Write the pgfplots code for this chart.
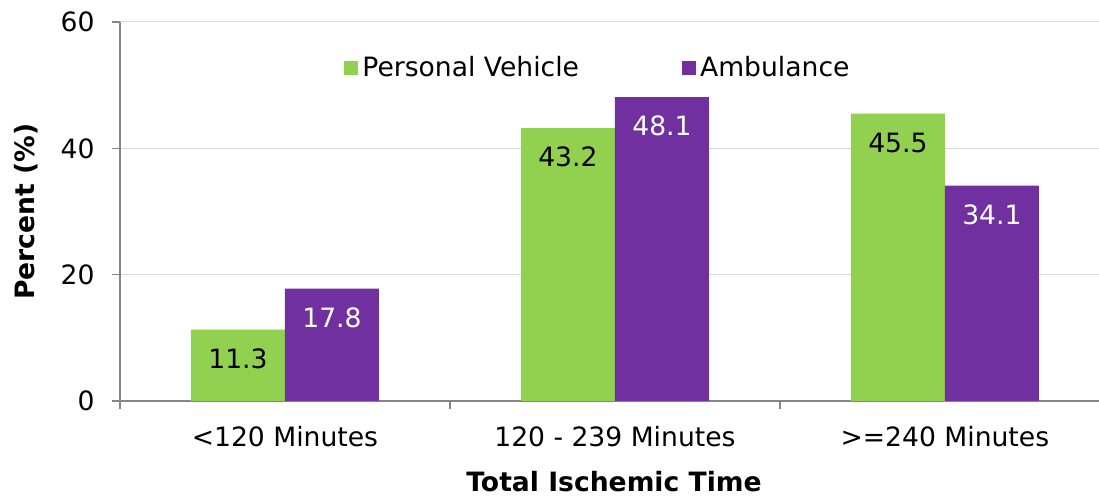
\documentclass[border=0pt]{standalone}
\usepackage{pgfplots}
\pgfplotsset{compat=1.18}
\usepackage{fontspec}
\setmainfont{DejaVu Sans}
\definecolor{pv}{HTML}{92D050}
\definecolor{amb}{HTML}{7030A0}
\definecolor{axgray}{HTML}{868686}
\definecolor{gridc}{HTML}{D9D9D9}
\begin{document}
\fontsize{13.3}{15}\selectfont
\begin{tikzpicture}
\begin{axis}[
  at={(0,0)}, anchor=south west,
  scale only axis, width=489.5pt, height=189.5pt,
  ybar=0pt, bar width=47pt,
  xmin=-0.5, xmax=2.467, ymin=0, ymax=60,
  ytick={0,20,40,60},
  xtick={0,1,2},
  xticklabels={{<120 Minutes},{120 - 239 Minutes},{>=240 Minutes}},
  minor xtick={-0.5,0.5,1.5},
  major x tick style={draw=none},
  axis x line*=bottom, axis y line*=left,
  axis line style={draw=axgray, line width=0.6pt, -},
  tick style={draw=axgray, line width=0.6pt},
  tick align=outside,
  major tick length=4pt, minor tick length=4pt,
  ymajorgrids, grid style={draw=gridc, line width=0.5pt},
  /pgf/number format/assume math mode=true,
  font=\fontsize{13.3}{15}\selectfont,
  ticklabel style={font=\fontsize{13.3}{15}\selectfont},
  yticklabel style={anchor=east, xshift=-4.1pt},
  xticklabel style={anchor=center, yshift=-13.8pt},
  every axis y label/.style={at={(axis description cs:-0.096,0.5)}, anchor=center, rotate=90},
  every axis x label/.style={at={(axis description cs:0.5046,-0.2125)}, anchor=center},
  ylabel={\textbf{Percent (\%)}},
  xlabel={\textbf{Total Ischemic Time}},
  legend columns=2,
  legend style={draw=none, fill=none, at={(0.2227,0.8786)}, anchor=west,
    font=\fontsize{13.3}{15}\selectfont,
    /tikz/every even column/.append style={column sep=49.5pt}},
  nodes near coords={\pgfmathprintnumber[fixed,fixed zerofill,precision=1]{\pgfplotspointmeta}},
  every node near coord/.append style={anchor=center, yshift=-14.5pt, font=\fontsize{13.3}{15}\selectfont},
]
\addplot[fill=pv, draw=none, every node near coord/.append style={text=black},
  legend image code/.code={\fill[pv] (-2pt,-3.5pt) rectangle (5pt,3.5pt);}]
  coordinates {(0,11.3) (1,43.2) (2,45.5)};
\addplot[fill=amb, draw=none, every node near coord/.append style={text=white},
  legend image code/.code={\fill[amb] (-2pt,-3.5pt) rectangle (5pt,3.5pt);}]
  coordinates {(0,17.8) (1,48.1) (2,34.1)};
\legend{Personal Vehicle, Ambulance}
\end{axis}
\pgfresetboundingbox
\useasboundingbox (-60pt,-47.5pt) rectangle (489.5pt,200.5pt);
\end{tikzpicture}
\end{document}
